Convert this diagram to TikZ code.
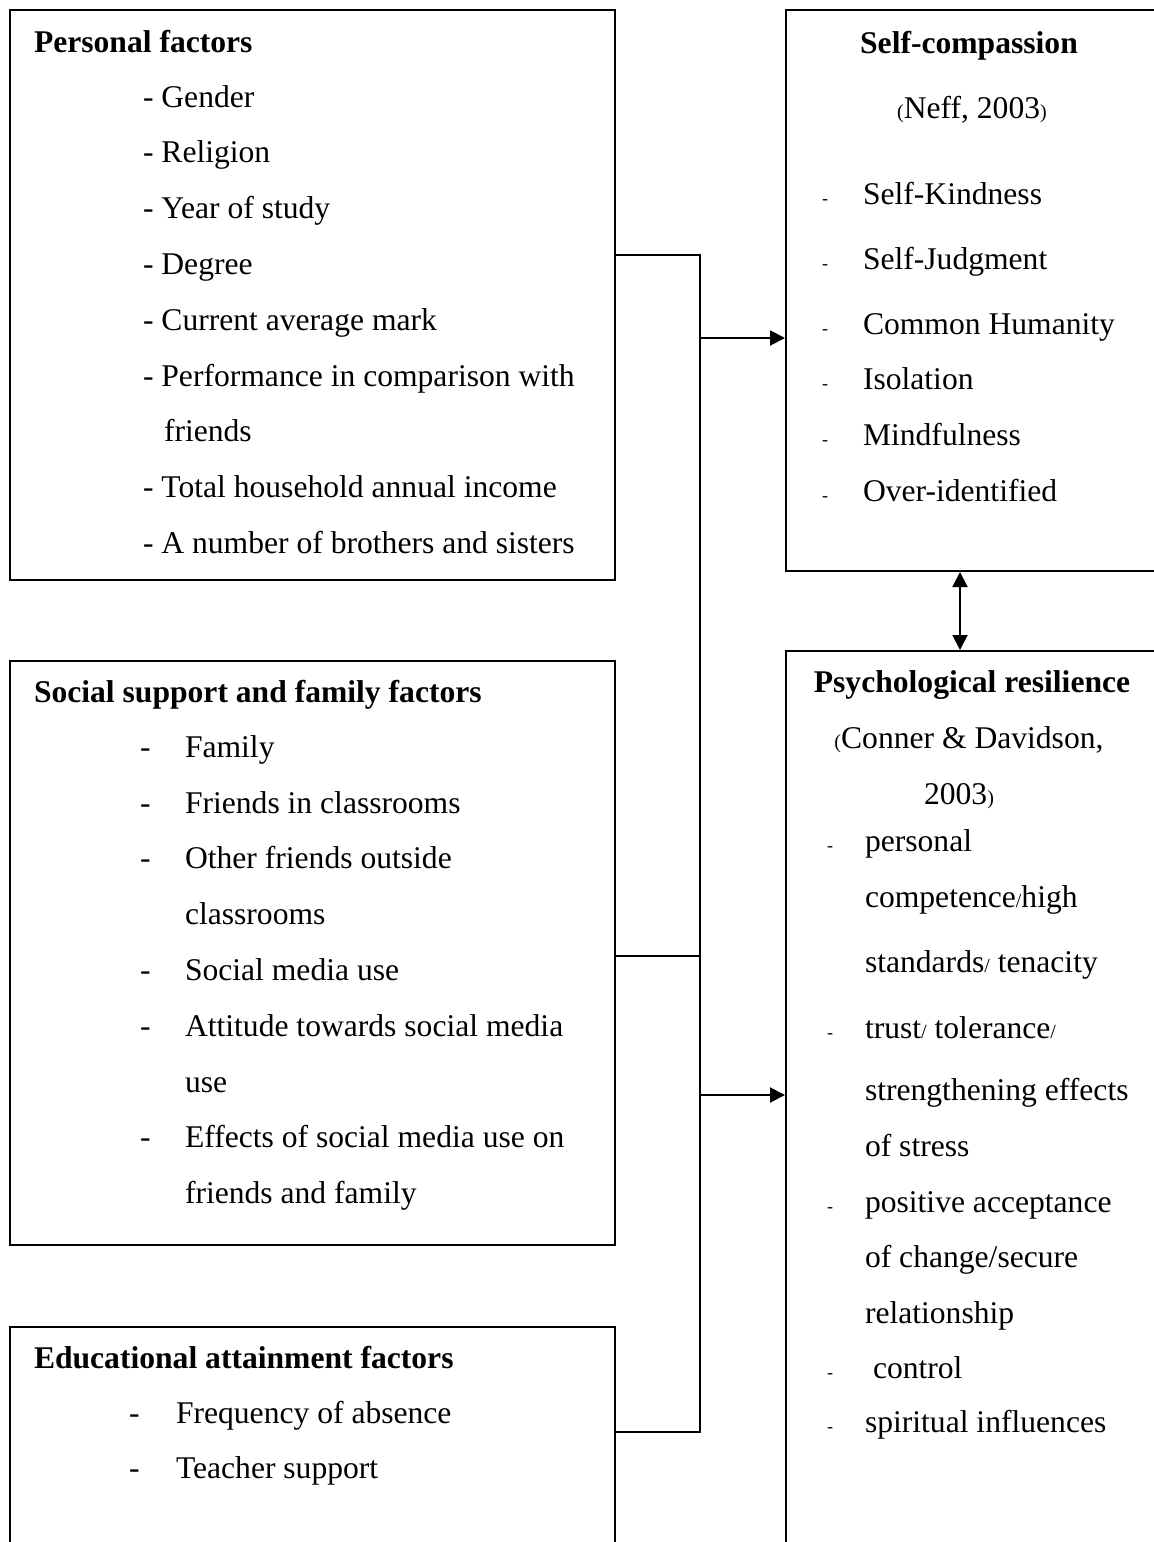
\documentclass[tikz,border=0pt]{standalone}
\usepackage{fontspec}
\setmainfont{Liberation Serif}
\usepackage{tikz}
\usetikzlibrary{arrows.meta,fit}

\newcommand{\sm}[1]{{\fontsize{10}{12}\selectfont #1}}

\begin{document}
\begin{tikzpicture}[x=.5pt,y=-.5pt,line width=1pt,
  font=\fontsize{15.8}{19}\selectfont,
  box/.style={draw,inner sep=0pt,fit={#1}},
  txt/.style={anchor=base west,inner sep=0pt,yshift=-1pt},
  ctr/.style={anchor=base,inner sep=0pt,yshift=-1pt},
  ttl/.style={ctr,font=\fontsize{15.8}{19}\selectfont\bfseries},
  dsh/.style={ctr,font=\fontsize{9}{11}\selectfont},
  tri/.tip={Triangle[length=7.5pt,width=7.5pt]}]
\useasboundingbox (0,0) rectangle (1154,1542);
\clip (0,0) rectangle (1154,1542);
\node[box={(10,10) (615,580)}] (pers) {};
\node[box={(10,661) (615,1245)}] (soc) {};
\node[box={(10,1327) (615,1560)}] (edu) {};
\node[box={(786,10) (1160,571)}] (sc) {};
\node[box={(786,651) (1160,1560)}] (res) {};
% personal factors
\node[txt,font=\fontsize{15.8}{19}\selectfont\bfseries] (p0) at (33,51) {Personal factors};
\node[txt] (p1) at (142,105) {- Gender};
\node[txt] (p2) at (142,160) {- Religion};
\node[txt] (p3) at (142,216) {- Year of study};
\node[txt] (p4) at (142,272) {- Degree};
\node[txt] (p5) at (142,328) {- Current average mark};
\node[txt] (p6) at (142,384) {- Performance in comparison with};
\node[txt] (p7) at (163,439) {friends};
\node[txt] (p8) at (142,495) {- Total household annual income};
\node[txt] (p9) at (142,551) {- A number of brothers and sisters};
% social support
\node[txt,font=\fontsize{15.8}{19}\selectfont\bfseries] (s0) at (33,700) {Social support and family factors};
\foreach \y/\t [count=\i] in {755/Family,811/Friends in classrooms,866/Other friends outside,978/Social media use,1034/Attitude towards social media,1145/Effects of social media use on}
  {\node[txt] (sd\i) at (139,\y) {-}; \node[txt] (s\i) at (184,\y) {\t};}
\node[txt] (s7) at (184,922) {classrooms};
\node[txt] (s8) at (184,1090) {use};
\node[txt] (s9) at (184,1201) {friends and family};
% educational
\node[txt,font=\fontsize{15.8}{19}\selectfont\bfseries] (e0) at (33,1366) {Educational attainment factors};
\node[txt] (ed1) at (128,1421) {-};
\node[txt] (e1) at (175,1421) {Frequency of absence};
\node[txt] (ed2) at (128,1476) {-};
\node[txt] (e2) at (175,1476) {Teacher support};
% self-compassion
\node[ttl] (c0) at (969,52) {Self-compassion};
\node[ctr] (c00) at (972,116) {\sm{(}Neff, 2003\sm{)}};
\foreach \y/\t [count=\i] in {202/Self-Kindness,267/Self-Judgment,332/Common Humanity,387/Isolation,443/Mindfulness,499/Over-identified}
  {\node[dsh] (cd\i) at (825,\y) {-}; \node[txt] (c\i) at (862,\y) {\t};}
% resilience
\node[ttl] (r0) at (972,690) {Psychological resilience};
\node[ctr] (r00) at (969,746) {\sm{(}Conner \& Davidson,};
\node[ctr] (r01) at (959,802) {2003\sm{)}};
\node[dsh] (rd1) at (830,849) {-};
\node[txt] (r1) at (864,849) {personal};
\node[txt] (r2) at (864,905) {competence\sm{/}high};
\node[txt] (r3) at (864,970) {standards\sm{/} tenacity};
\node[dsh] (rd2) at (830,1036) {-};
\node[txt] (r4) at (864,1036) {trust\sm{/} tolerance\sm{/}};
\node[txt] (r5) at (864,1098) {strengthening effects};
\node[txt] (r6) at (864,1154) {of stress};
\node[dsh] (rd3) at (830,1210) {-};
\node[txt] (r7) at (864,1210) {positive acceptance};
\node[txt] (r8) at (864,1265) {of change/secure};
\node[txt] (r9) at (864,1321) {relationship};
\node[dsh] (rd4) at (830,1376) {-};
\node[txt] (r10) at (872,1376) {control};
\node[dsh] (rd5) at (830,1430) {-};
\node[txt] (r11) at (864,1430) {spiritual influences};
% connectors
\coordinate (j1) at (700,255);
\coordinate (j2) at (700,956);
\coordinate (j3) at (700,1432);
\coordinate (a1) at (700,338);
\coordinate (a2) at (700,1095);
\coordinate (dx) at (960,0);
\draw (pers.east |- j1) -- (j1) -- (j3) -- (edu.east |- j3);
\draw (soc.east |- j2) -- (j2);
\draw[-tri] (a1) -- (sc.west |- a1);
\draw[-tri] (a2) -- (res.west |- a2);
\draw[tri-tri] (sc.south -| dx) -- (res.north -| dx);
\end{tikzpicture}
\end{document}
